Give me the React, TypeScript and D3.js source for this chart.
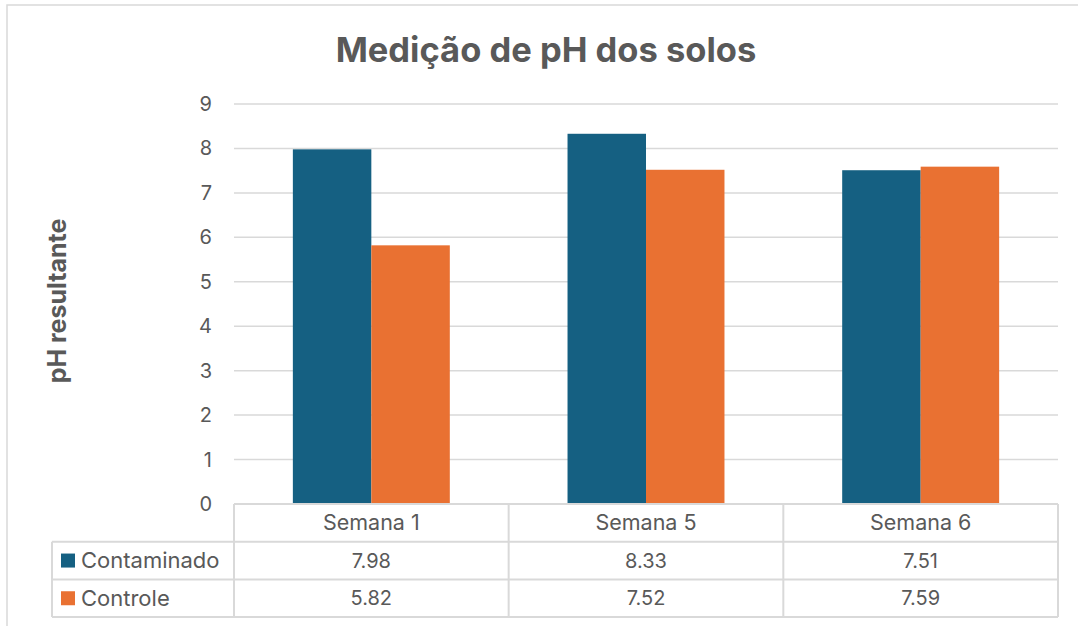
import React from 'react';
import * as d3 from 'd3';

const categories = ['Semana 1', 'Semana 5', 'Semana 6'];
const seriesNames = ['Contaminado', 'Controle'];
const contaminado = [7.98, 8.33, 7.51];
const controle = [5.82, 7.52, 7.59];
const yTicks = [0, 1, 2, 3, 4, 5, 6, 7, 8, 9];
const colors = ['#156082', '#E97132'];

const W = 1078;
const H = 626;
const FONT = 'Inter, "Liberation Sans", sans-serif';
const TXT = '#595959';
const GRID = '#D9D9D9';

export default function App() {
  const plot = { left: 234, right: 1058, top: 104, bottom: 504 };
  const rowH = 37.7;
  const labelLeft = 52;

  const x = d3.scaleBand().domain(categories).range([plot.left, plot.right]);
  const inner = d3.scaleBand().domain(seriesNames).range([0, x.bandwidth()]).paddingInner(0).paddingOuter(0.75);
  const y = d3.scaleLinear().domain([0, 9]).range([plot.bottom, plot.top]);

  const series = [contaminado, controle];

  return (
    <svg width={W} height={H} style={{ position: 'absolute', left: 0, top: 0, background: '#fff' }} fontFamily={FONT}>
      <rect x={7} y={5} width={W + 20} height={H + 20} fill="#fff" stroke={GRID} strokeWidth={1.5} />

      <text x={546} y={62} textAnchor="middle" fontSize={34.5} fontWeight="bold" fill={TXT}>
        Medição de pH dos solos
      </text>

      <text transform={`translate(66,301) rotate(-90)`} textAnchor="middle" fontSize={25} fontWeight="bold" fill={TXT}>
        pH resultante
      </text>

      {yTicks.map(t => (
        <g key={t}>
          {t > 0 && <line x1={plot.left} x2={plot.right} y1={y(t)} y2={y(t)} stroke={GRID} strokeWidth={1.5} />}
          <text x={212} y={y(t)} dy="0.35em" textAnchor="end" fontSize={20} fill={TXT}>{t}</text>
        </g>
      ))}

      {categories.map((c, i) =>
        series.map((s, j) => (
          <rect key={`${c}-${j}`}
            x={(x(c) ?? 0) + (inner(seriesNames[j]) ?? 0)}
            y={y(s[i])}
            width={inner.bandwidth()}
            height={y(0) - y(s[i])}
            fill={colors[j]} />
        ))
      )}

      {/* data table */}
      <g stroke={GRID} strokeWidth={2} fill="none">
        <line x1={plot.left} x2={plot.right} y1={plot.bottom} y2={plot.bottom} />
        <line x1={labelLeft} x2={plot.right} y1={plot.bottom + rowH} y2={plot.bottom + rowH} />
        <line x1={labelLeft} x2={plot.right} y1={plot.bottom + rowH * 2} y2={plot.bottom + rowH * 2} />
        <line x1={labelLeft} x2={plot.right} y1={plot.bottom + rowH * 3} y2={plot.bottom + rowH * 3} />
        <line x1={labelLeft} x2={labelLeft} y1={plot.bottom + rowH} y2={plot.bottom + rowH * 3} />
        {[...categories.map(c => x(c) ?? 0), plot.right].map((xv, k) => (
          <line key={k} x1={xv} x2={xv} y1={plot.bottom} y2={plot.bottom + rowH * 3} />
        ))}
      </g>

      {categories.map(c => (
        <text key={c} x={(x(c) ?? 0) + x.bandwidth() / 2} y={plot.bottom + rowH / 2} dy="0.35em" textAnchor="middle" fontSize={21.5} fill={TXT}>{c}</text>
      ))}

      {seriesNames.map((name, j) => {
        const cy = plot.bottom + rowH * (j + 1) + rowH / 2;
        return (
          <g key={name}>
            <rect x={61} y={cy - 7} width={14} height={14} fill={colors[j]} />
            <text x={81} y={cy} dy="0.35em" fontSize={22} fill={TXT}>{name}</text>
            {categories.map((c, i) => (
              <text key={c} x={(x(c) ?? 0) + x.bandwidth() / 2} y={cy} dy="0.35em" textAnchor="middle" fontSize={20} fill={TXT}>
                {series[j][i].toFixed(2)}
              </text>
            ))}
          </g>
        );
      })}
    </svg>
  );
}
